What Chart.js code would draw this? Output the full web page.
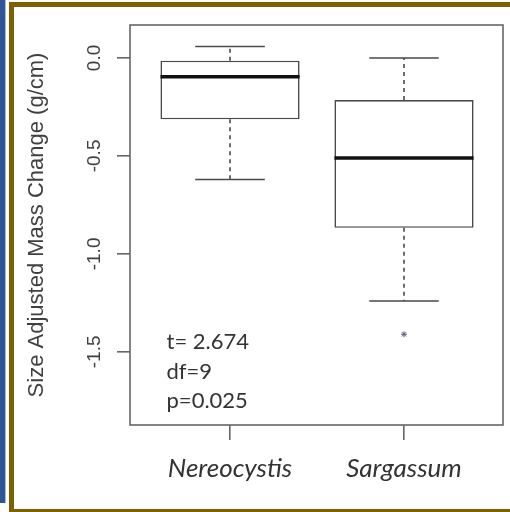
<!DOCTYPE html>
<html>
<head>
<meta charset="utf-8">
<script src="https://cdn.jsdelivr.net/npm/chart.js@4/dist/chart.umd.min.js"></script>
<style>
  html, body { margin: 0; padding: 0; background: #fff; }
  #wrap { position: relative; width: 510px; height: 512px; overflow: hidden; }
  .deco { position: absolute; }
  #blue { left: 0; top: 0; width: 5px; height: 503px; background: #2f5597; border-right: 1px solid #a9bbdc; }
  #goldL { left: 9px; top: 2px; width: 5px; height: 510px; background: #7f6000; }
  #goldT { left: 9px; top: 2px; width: 501px; height: 5px; background: #7f6000; }
  #goldB { left: 9px; top: 509px; width: 501px; height: 3px; background: #7f6000; }
  #myChart { position: absolute; left: 0; top: 0; }
</style>
</head>
<body>
<div id="wrap">
  <div class="deco" id="blue"></div>
  <div class="deco" id="goldL"></div>
  <div class="deco" id="goldT"></div>
  <div class="deco" id="goldB"></div>
  <canvas id="myChart" width="510" height="512"></canvas>
</div>
<script>
const categories = ['Nereocystis', 'Sargassum'];
const whiskerHigh = [0.058, 0.0];
const boxTop = [-0.014, -0.215];
const medians = [-0.096, -0.51];
const boxBottom = [-0.313, -0.867];
const whiskerLow = [-0.62, -1.24];
const outliers = [[], [-1.41]];
const yTicks = [0, -0.5, -1.0, -1.5];
const statsLines = ['t= 2.674', 'df=9', 'p=0.025'];

const lineColor = '#4a4a4a';
const textColor = '#404040';

// whiskers, caps, medians, frame and the t-test text
const boxPlot = {
    id: 'boxPlot',
    afterDatasetsDraw(chart) {
        const ctx = chart.ctx;
        const xs = chart.scales.x;
        const ys = chart.scales.y;
        const half = (xs.getPixelForValue(1.4) - xs.getPixelForValue(1)) / 2;
        ctx.save();
        categories.forEach(function(c, i) {
            const cx = xs.getPixelForValue(i + 1);
            ctx.strokeStyle = lineColor;
            ctx.lineWidth = 1.6;
            // dashed whiskers
            ctx.setLineDash([4, 4]);
            ctx.beginPath();
            ctx.moveTo(cx, ys.getPixelForValue(boxTop[i]));
            ctx.lineTo(cx, ys.getPixelForValue(whiskerHigh[i]));
            ctx.moveTo(cx, ys.getPixelForValue(boxBottom[i]));
            ctx.lineTo(cx, ys.getPixelForValue(whiskerLow[i]));
            ctx.stroke();
            ctx.setLineDash([]);
            // caps
            ctx.beginPath();
            ctx.moveTo(cx - half, ys.getPixelForValue(whiskerHigh[i]));
            ctx.lineTo(cx + half, ys.getPixelForValue(whiskerHigh[i]));
            ctx.moveTo(cx - half, ys.getPixelForValue(whiskerLow[i]));
            ctx.lineTo(cx + half, ys.getPixelForValue(whiskerLow[i]));
            ctx.stroke();
            // median
            ctx.strokeStyle = '#111';
            ctx.lineWidth = 3.5;
            ctx.beginPath();
            ctx.moveTo(xs.getPixelForValue(i + 0.6), ys.getPixelForValue(medians[i]));
            ctx.lineTo(xs.getPixelForValue(i + 1.4), ys.getPixelForValue(medians[i]));
            ctx.stroke();
        });

        // box around the plot region
        const a = chart.chartArea;
        ctx.strokeStyle = '#666';
        ctx.lineWidth = 1.6;
        ctx.strokeRect(a.left, a.top, a.right - a.left, a.bottom - a.top);

        // t-test results
        ctx.fillStyle = '#333';
        ctx.font = '22px Lato';
        ctx.textAlign = 'left';
        ctx.textBaseline = 'alphabetic';
        const tx = xs.getPixelForValue(0.635);
        const ty = ys.getPixelForValue(-1.487);
        statsLines.forEach(function(s, k) {
            ctx.fillText(s, tx, ty + k * 29.5);
        });
        ctx.restore();
    }
};

window.onload = function() {
    let ctx = document.getElementById('myChart').getContext('2d');

    let boxData = categories.map(function(c, i) {
        return { x: i + 1, y: [boxBottom[i], boxTop[i]] };
    });
    let outlierData = [];
    outliers.forEach(function(list, i) {
        list.forEach(function(v) { outlierData.push({ x: i + 1, y: v }); });
    });

    let myChart = new Chart(ctx, {
        type: 'bar',
        data: {
            datasets: [{
                label: 'box',
                data: boxData,
                backgroundColor: '#ffffff',
                borderColor: lineColor,
                borderWidth: 1.6,
                borderSkipped: false,
                barPercentage: 0.8,
                categoryPercentage: 1.0
            },
            {
                type: 'scatter',
                label: 'outliers',
                data: outlierData,
                pointStyle: 'star',
                radius: 3,
                borderColor: '#556070',
                borderWidth: 1,
                backgroundColor: '#556070'
            }]
        },
        options: {
            responsive: false,
            animation: false,
            layout: { padding: { top: 25, right: 7, left: 0, bottom: 0 } },
            plugins: {
                legend: { display: false },
                tooltip: { enabled: false }
            },
            scales: {
                x: {
                    type: 'linear',
                    offset: false,
                    min: 0.425,
                    max: 2.569,
                    afterBuildTicks: function(axis) {
                        axis.ticks = categories.map(function(c, i) { return { value: i + 1 }; });
                    },
                    afterFit: function(axis) { axis.height = 87; },
                    border: { display: false },
                    grid: {
                        offset: false,
                        drawOnChartArea: false,
                        drawTicks: true,
                        tickLength: 15,
                        color: '#666',
                        lineWidth: 1.6
                    },
                    ticks: {
                        padding: 13,
                        color: '#333',
                        font: { family: 'Lato', size: 26, style: 'italic' },
                        maxRotation: 0,
                        callback: function(v) { return categories[v - 1]; }
                    }
                },
                y: {
                    min: -1.873,
                    max: 0.168,
                    afterBuildTicks: function(axis) {
                        axis.ticks = yTicks.map(function(v) { return { value: v }; });
                    },
                    afterFit: function(axis) { axis.width = 130; },
                    border: { display: false },
                    grid: {
                        drawOnChartArea: false,
                        drawTicks: true,
                        tickLength: 13,
                        color: '#666',
                        lineWidth: 1.6
                    },
                    ticks: {
                        padding: 5.5,
                        color: textColor,
                        crossAlign: 'center',
                        minRotation: 90,
                        maxRotation: 90,
                        font: { family: 'Liberation Sans', size: 19 },
                        callback: function(v) { return v.toFixed(1); }
                    },
                    title: {
                        display: true,
                        text: 'Size Adjusted Mass Change (g/cm)',
                        color: textColor,
                        font: { family: 'Liberation Sans', size: 22 },
                        padding: { top: 24, bottom: 0 }
                    }
                }
            }
        },
        plugins: [boxPlot]
    });
};
</script>
</body>
</html>
